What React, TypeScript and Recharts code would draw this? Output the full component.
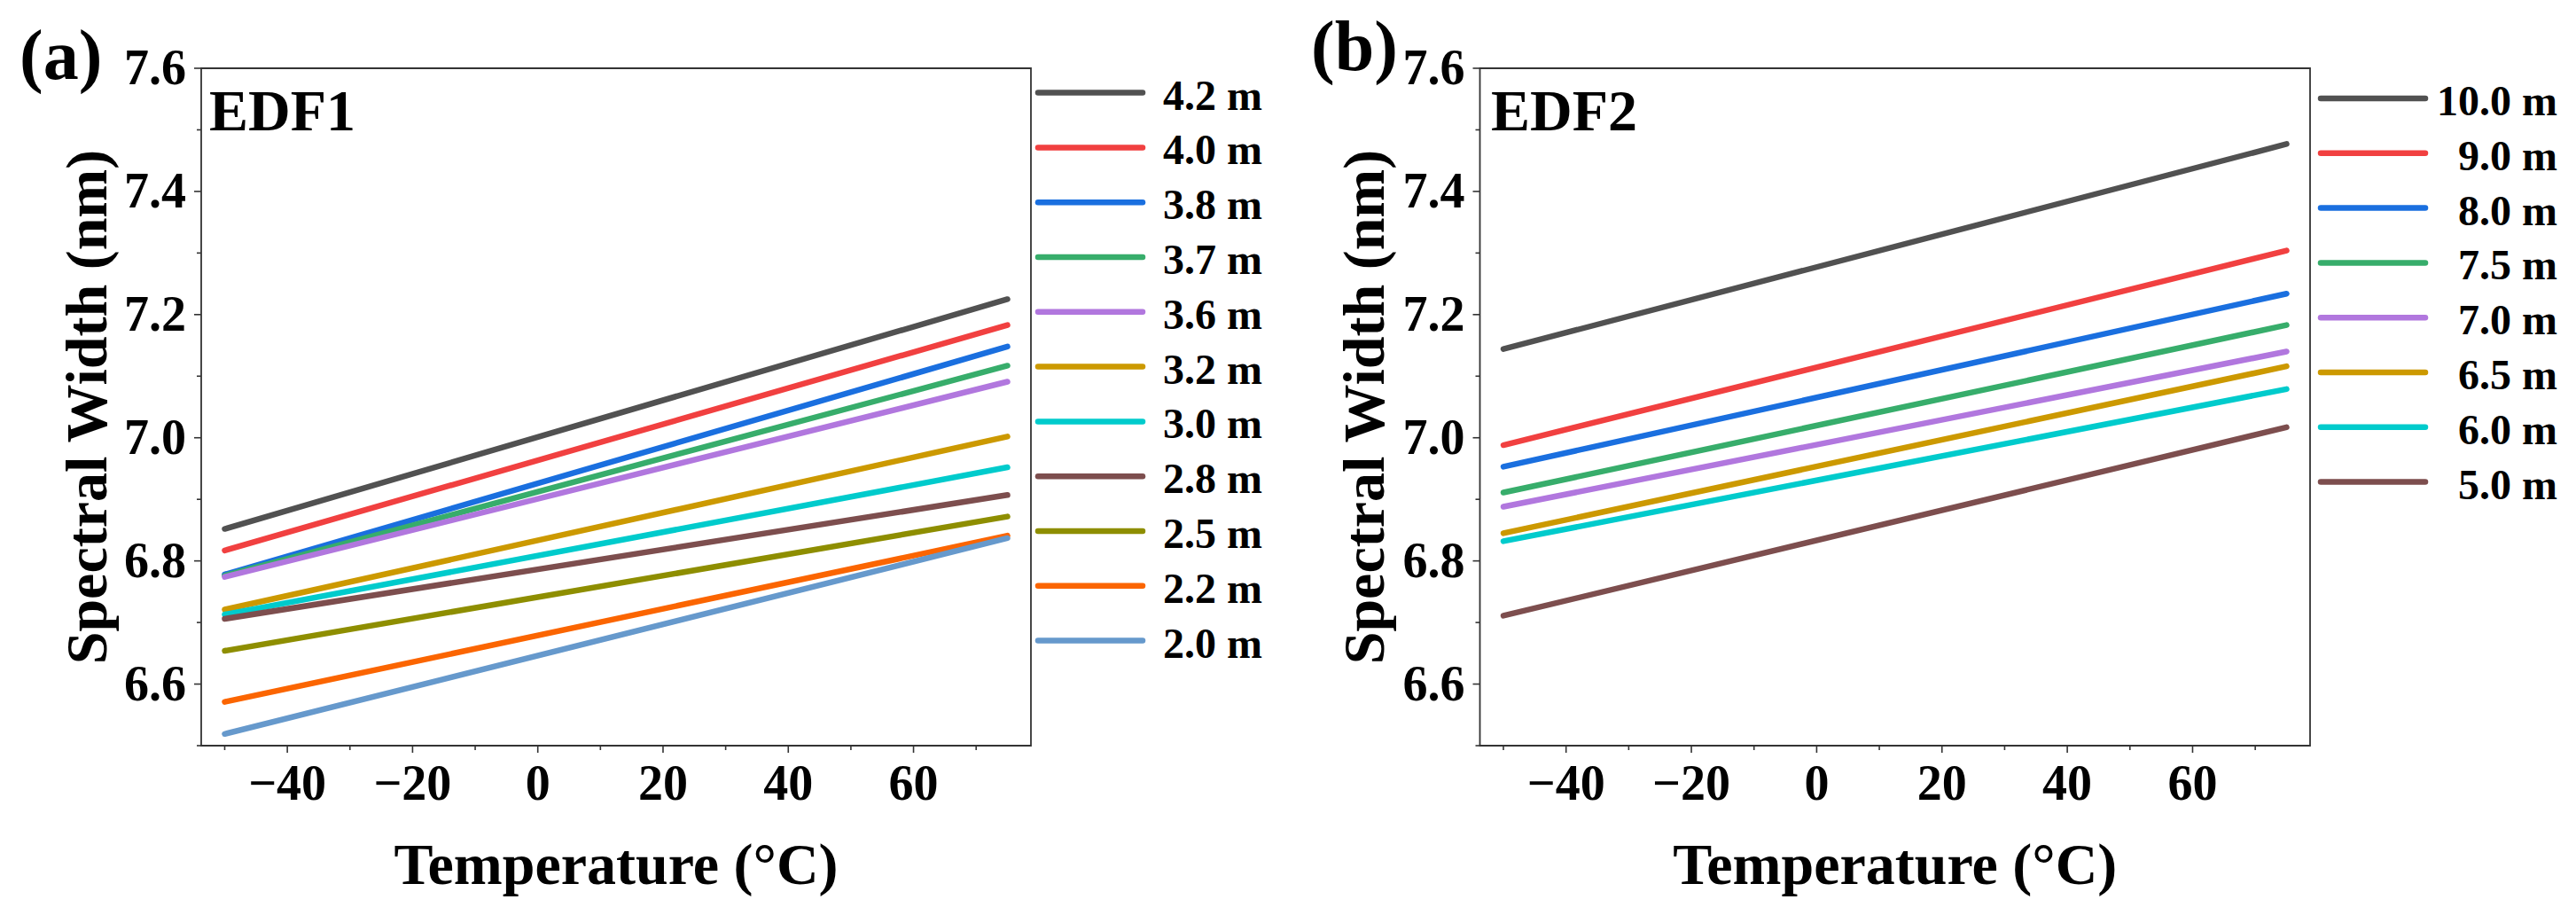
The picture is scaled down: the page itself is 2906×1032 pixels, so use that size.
import { LineChart, Line, XAxis, YAxis, ReferenceArea, Legend } from "recharts";

// temperature sweep end points (°C)
const temps = [-50, 75];

// EDF1 fibre lengths, spectral width at -50 °C and at 75 °C
const namesA = ["4.2 m", "4.0 m", "3.8 m", "3.7 m", "3.6 m", "3.2 m", "3.0 m", "2.8 m", "2.5 m", "2.2 m", "2.0 m"];
const startA = [6.852, 6.817, 6.778, 6.776, 6.774, 6.721, 6.713, 6.706, 6.654, 6.571, 6.519];
const endA = [7.225, 7.183, 7.148, 7.117, 7.091, 7.002, 6.952, 6.907, 6.872, 6.841, 6.837];

// EDF2
const namesB = ["10.0 m", "9.0 m", "8.0 m", "7.5 m", "7.0 m", "6.5 m", "6.0 m", "5.0 m"];
const startB = [7.144, 6.988, 6.953, 6.911, 6.888, 6.845, 6.832, 6.711];
const endB = [7.477, 7.304, 7.234, 7.183, 7.14, 7.116, 7.079, 7.017];

const palette = [
  "#515151", "#F14040", "#1A6FDF", "#37AD6B", "#B177DE", "#CC9900",
  "#00CBCC", "#7D4E4E", "#8E8E00", "#FB6501", "#6699CC",
];

const xTicks = [-50, -40, -30, -20, -10, 0, 10, 20, 30, 40, 50, 60, 70];
const xMajor = [-40, -20, 0, 20, 40, 60];
const yTicks = [6.5, 6.6, 6.7, 6.8, 6.9, 7.0, 7.1, 7.2, 7.3, 7.4, 7.5, 7.6];
const yMajor = [6.6, 6.8, 7.0, 7.2, 7.4, 7.6];

const X_DOMAIN: [number, number] = [-53.75, 78.75];
const Y_DOMAIN: [number, number] = [6.5, 7.6];

const W = 1453;
const H = 1032;
const PLOT_TOP = 77;
const PLOT_BOTTOM = 841;
const FONT = "'Liberation Serif', 'Times New Roman', serif";
const INK = "#333";

function buildRows(start: number[], end: number[]) {
  return temps.map((t, k) => {
    const row: Record<string, number> = { t };
    start.forEach((v, i) => {
      row[`s${i}`] = k === 0 ? v : end[i];
    });
    return row;
  });
}

const fmtX = (v: number) => (v < 0 ? `\u2212${-v}` : `${v}`);
const isMajorY = (v: number) => yMajor.some((m) => Math.abs(m - v) < 1e-6);

interface PanelProps {
  left: number;
  plotLeft: number;
  plotRight: number;
  names: string[];
  start: number[];
  end: number[];
  tag: string;
  tagX: number;
  tagY: number;
  title: string;
  titleX: number;
  yLabelX: number;
  legendLineX: [number, number];
  legendTextX: number;
  legendAnchor: "start" | "end";
  legendTop: number;
}

function Panel(p: PanelProps) {
  const rows = buildRows(p.start, p.end);
  const colors = palette.slice(0, p.names.length);
  const midX = (p.plotLeft + p.plotRight) / 2;
  const midY = (PLOT_TOP + PLOT_BOTTOM) / 2;

  const XTick = (props: any) => {
    const { x, payload } = props;
    const v = payload.value;
    const major = xMajor.includes(v);
    return (
      <g>
        <line x1={x} x2={x} y1={PLOT_BOTTOM} y2={PLOT_BOTTOM + (major ? 8 : 5)} stroke={INK} strokeWidth={1.6} />
        {major && (
          <text x={x} y={902} textAnchor="middle" fontFamily={FONT} fontWeight="bold" fontSize={56} fill="#000">
            {fmtX(v)}
          </text>
        )}
      </g>
    );
  };

  const YTick = (props: any) => {
    const { y, payload } = props;
    const v = payload.value;
    const major = isMajorY(v);
    return (
      <g>
        <line x1={p.plotLeft - (major ? 8 : 5)} x2={p.plotLeft} y1={y} y2={y} stroke={INK} strokeWidth={1.6} />
        {major && (
          <text x={p.plotLeft - 17} y={y + 18} textAnchor="end" fontFamily={FONT} fontWeight="bold" fontSize={56} fill="#000">
            {v.toFixed(1)}
          </text>
        )}
      </g>
    );
  };

  const renderLegend = () => (
    <svg width={W} height={H} style={{ position: "absolute", left: 0, top: 0 }}>
      {p.names.map((n, i) => {
        const y = p.legendTop + i * 61.8;
        return (
          <g key={n}>
            <line x1={p.legendLineX[0]} x2={p.legendLineX[1]} y1={y} y2={y} stroke={colors[i]} strokeWidth={6.5} strokeLinecap="round" />
            <text x={p.legendTextX} y={y + 19} textAnchor={p.legendAnchor} fontFamily={FONT} fontWeight="bold" fontSize={48} fill="#000">
              {n}
            </text>
          </g>
        );
      })}
    </svg>
  );

  return (
    <div style={{ position: "absolute", left: p.left, top: 0, width: W, height: H }}>
      <LineChart
        width={W}
        height={H}
        data={rows}
        margin={{ top: PLOT_TOP, right: W - p.plotRight, bottom: H - PLOT_BOTTOM - 60, left: p.plotLeft - 120 }}
      >
        <XAxis
          dataKey="t"
          type="number"
          domain={X_DOMAIN}
          allowDataOverflow
          ticks={xTicks}
          interval={0}
          tick={XTick}
          tickLine={false}
          axisLine={false}
          height={60}
        />
        <YAxis
          type="number"
          domain={Y_DOMAIN}
          allowDataOverflow
          ticks={yTicks}
          interval={0}
          tick={YTick}
          tickLine={false}
          axisLine={false}
          width={120}
        />
        <ReferenceArea
          x1={X_DOMAIN[0]}
          x2={X_DOMAIN[1]}
          y1={Y_DOMAIN[0]}
          y2={Y_DOMAIN[1]}
          fill="none"
          fillOpacity={0}
          stroke={INK}
          strokeWidth={1.8}
          ifOverflow="visible"
        />
        {p.names.map((n, i) => (
          <Line
            key={n}
            dataKey={`s${i}`}
            name={n}
            type="linear"
            stroke={colors[i]}
            strokeWidth={6.5}
            strokeLinecap="round"
            dot={false}
            activeDot={false}
            isAnimationActive={false}
          />
        ))}
        <Legend
          layout="horizontal"
          verticalAlign="middle"
          align="center"
          content={renderLegend}
          wrapperStyle={{ position: "absolute", left: 0, top: 0, width: W, height: H, pointerEvents: "none" }}
        />
        <text x={p.tagX} y={p.tagY} fontFamily={FONT} fontWeight="bold" fontSize={80} fill="#000">
          {p.tag}
        </text>
        <text x={p.titleX} y={147} fontFamily={FONT} fontWeight="bold" fontSize={66} fill="#000">
          {p.title}
        </text>
        <text x={midX} y={997} textAnchor="middle" fontFamily={FONT} fontWeight="bold" fontSize={66} fill="#000">
          Temperature (°C)
        </text>
        <text
          x={p.yLabelX}
          y={midY}
          transform={`rotate(-90 ${p.yLabelX} ${midY})`}
          textAnchor="middle"
          fontFamily={FONT}
          fontWeight="bold"
          fontSize={66}
          fill="#000"
        >
          Spectral Width (nm)
        </text>
      </LineChart>
    </div>
  );
}

export default function App() {
  return (
    <div style={{ position: "relative", width: 2906, height: 1032, background: "#fff", overflow: "hidden" }}>
      <style>{"body{margin:0;background:#fff}"}</style>
      <Panel
        left={0}
        plotLeft={227}
        plotRight={1163}
        names={namesA}
        start={startA}
        end={endA}
        tag="(a)"
        tagX={22}
        tagY={89}
        title="EDF1"
        titleX={236}
        yLabelX={120}
        legendLineX={[1171, 1289]}
        legendTextX={1312}
        legendAnchor="start"
        legendTop={104.6}
      />
      <Panel
        left={1453}
        plotLeft={216.5}
        plotRight={1153}
        names={namesB}
        start={startB}
        end={endB}
        tag="(b)"
        tagX={26}
        tagY={79}
        title="EDF2"
        titleX={229}
        yLabelX={108}
        legendLineX={[1165, 1283]}
        legendTextX={1432}
        legendAnchor="end"
        legendTop={111}
      />
    </div>
  );
}
